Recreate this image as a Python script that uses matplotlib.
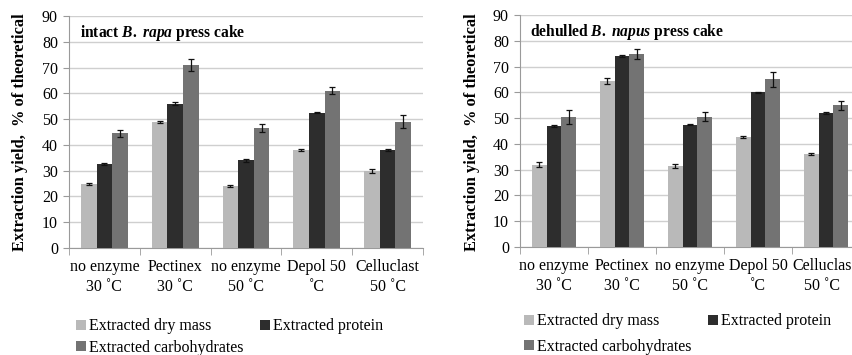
import matplotlib
matplotlib.use("Agg")
import matplotlib.pyplot as plt
import matplotlib.transforms as mtransforms
import numpy as np
from matplotlib.patches import Patch

plt.rcParams['font.family'] = ['Liberation Serif', 'DejaVu Serif']
plt.rcParams['mathtext.fontset'] = 'custom'
plt.rcParams['mathtext.rm'] = 'Liberation Serif:bold'
plt.rcParams['mathtext.it'] = 'Liberation Serif:italic:bold'

categories = ["no enzyme\n30 ˚C", "Pectinex\n30 ˚C", "no enzyme\n50 ˚C", "Depol 50\n˚C", "Celluclast\n50 ˚C"]
categories_right = ["no enzyme\n30 ˚C", "Pectinex\n30 ˚C", "no enzyme\n50 ˚C", "Depol 50\n˚C", "Celluclas\n50 ˚C"]
series = ["Extracted dry mass", "Extracted protein", "Extracted carbohydrates"]

rapa_dry = [25, 49, 24, 38, 30]
rapa_prot = [32.5, 56, 34, 52.5, 38]
rapa_carb = [44.5, 71, 46.5, 61, 49]
rapa_dry_err = [0.4, 0.4, 0.4, 0.3, 0.8]
rapa_prot_err = [0.3, 0.5, 0.5, 0.3, 0.3]
rapa_carb_err = [1.4, 2.4, 1.6, 1.3, 2.5]

napus_dry = [32, 64.5, 31.5, 42.5, 36]
napus_prot = [47, 74, 47.5, 60, 52]
napus_carb = [50.5, 75, 50.5, 65, 55]
napus_dry_err = [1.0, 1.2, 0.8, 0.4, 0.5]
napus_prot_err = [0.3, 0.3, 0.3, 0.3, 0.4]
napus_carb_err = [2.7, 2.0, 1.8, 3.0, 1.8]

colors = ["#b9b9b9", "#2d2d2d", "#737373"]

W, H = 853, 355
fig = plt.figure(figsize=(W / 100, H / 100), dpi=100)


def panel(rect, cats, vals, errs, title, ylabel_x, legend_anchor, lspace, last_shift=0):
    ax = fig.add_axes(rect)
    x = np.arange(len(cats))
    bw = 0.22
    for i, (v, e, c) in enumerate(zip(vals, errs, colors)):
        ax.bar(x + (i - 1) * bw, v, bw, color=c, zorder=3, label=series[i])
        ax.errorbar(x + (i - 1) * bw, v, yerr=e, fmt='none', ecolor='#111111',
                    elinewidth=0.9, capsize=2.2, capthick=0.9, zorder=4)
    ax.set_xlim(-0.5, len(cats) - 0.5)
    ax.set_ylim(0, 90)
    ax.set_yticks(range(0, 91, 10))
    ax.yaxis.grid(True, color='#cfcfcf', linewidth=1.0, zorder=0)
    ax.set_axisbelow(True)
    for s in ['top', 'right']:
        ax.spines[s].set_visible(False)
    for s in ['left', 'bottom']:
        ax.spines[s].set_color('#9a9a9a')
    ax.set_xticks(x)
    ax.set_xticklabels(cats, fontsize=11.5, linespacing=1.35)
    ax.set_xticks(np.arange(-0.5, len(cats)), minor=True)
    ax.tick_params(axis='x', which='major', length=0, pad=8)
    ax.tick_params(axis='x', which='minor', length=5, color='#9a9a9a')
    ax.tick_params(axis='y', length=4, color='#9a9a9a', labelsize=11.5, pad=4)
    if last_shift:
        lab = ax.get_xticklabels()[-1]
        lab.set_transform(lab.get_transform() +
                          mtransforms.ScaledTranslation(last_shift / 100, 0, fig.dpi_scale_trans))
    ax.text(0.03, 0.925, title, transform=ax.transAxes, fontsize=11.2,
            fontweight='bold', va='center', ha='left')
    fig.text(ylabel_x, (H - 132) / H, "Extraction yield,  % of theoretical",
             rotation=90, fontsize=11.8, fontweight='bold', ha='center', va='center')
    order = [0, 2, 1]
    handles = [Patch(facecolor=colors[i]) for i in order]
    labels = [series[i] for i in order]
    fig.legend(handles, labels, ncol=2, loc='upper left',
               bbox_to_anchor=legend_anchor, frameon=False, fontsize=11.5,
               handlelength=0.6, handleheight=0.6, handletextpad=0.2,
               columnspacing=1.05, labelspacing=lspace, borderaxespad=0)
    return ax


panel([69 / W, (H - 248) / H, 354 / W, 232 / H], categories,
      [rapa_dry, rapa_prot, rapa_carb], [rapa_dry_err, rapa_prot_err, rapa_carb_err],
      r"intact $B.$ $rapa$ press cake", 20 / W, (70 / W, (H - 312) / H), 0.35)

panel([520 / W, (H - 247) / H, 340 / W, 232 / H], categories_right,
      [napus_dry, napus_prot, napus_carb], [napus_dry_err, napus_prot_err, napus_carb_err],
      r"dehulled $B.$ $napus$ press cake", 472 / W, (518 / W, (H - 307) / H), 0.6,
      last_shift=-4)

fig.savefig("out.png", dpi=100)
